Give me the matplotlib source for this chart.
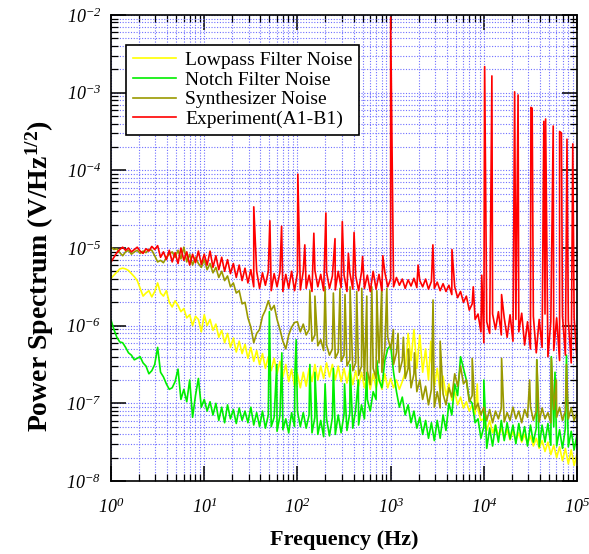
import numpy as np
import matplotlib
matplotlib.use('Agg')
import matplotlib.pyplot as plt
from matplotlib.ticker import FixedLocator, LogLocator, FuncFormatter, NullFormatter

plt.rcParams['font.family'] = 'Liberation Serif'
plt.rcParams['mathtext.fontset'] = 'custom'
plt.rcParams['mathtext.rm'] = 'Liberation Serif:italic'
plt.rcParams['mathtext.it'] = 'Liberation Serif:italic'
plt.rcParams['mathtext.bf'] = 'Liberation Serif:bold'

# spectra on a 32 points/decade grid, stored as log10 of V/Hz^1/2
freq = np.logspace(0, 5, 161)

lowpass_log = [
    -5.39, -5.35, -5.31, -5.27, -5.26, -5.27, -5.29, -5.33, -5.37, -5.42, -5.52, -5.62, -5.58, -5.55, -5.63, -5.56,
    -5.45, -5.58, -5.62, -5.55, -5.70, -5.76, -5.68, -5.74, -5.82, -5.78, -5.90, -5.86, -6.00, -5.88, -5.92, -6.08,
    -5.86, -6.00, -5.92, -6.06, -5.98, -6.15, -6.06, -6.22, -6.10, -6.28, -6.16, -6.34, -6.20, -6.36, -6.24, -6.42,
    -6.28, -6.46, -6.32, -6.50, -6.36, -6.55, -6.40, -6.58, -6.42, -6.62, -6.46, -6.66, -6.50, -6.72, -6.56, -6.78,
    -6.62, -6.80, -6.60, -6.78, -6.55, -6.72, -6.50, -6.70, -6.52, -6.68, -6.48, -6.66, -6.50, -6.70, -6.52, -6.72,
    -6.55, -6.74, -6.56, -6.76, -6.58, -6.78, -6.60, -6.80, -6.62, -6.82, -6.62, -6.80, -6.64, -6.82, -6.62, -6.80,
    -6.68, -6.80, -6.70, -6.82, -6.72, -6.60, -6.10, -6.45, -6.05, -6.55, -6.12, -6.60, -6.30, -6.70, -6.45, -6.78,
    -6.55, -6.85, -6.65, -6.90, -6.75, -6.96, -6.85, -7.02, -6.92, -7.06, -6.98, -7.10, -7.02, -7.14, -7.08, -7.22,
    -7.20, -7.35, -7.22, -7.38, -7.28, -7.42, -7.32, -7.45, -7.34, -7.47, -7.36, -7.48, -7.38, -7.50, -7.40, -7.52,
    -7.42, -7.55, -7.45, -7.58, -7.48, -7.62, -7.50, -7.66, -7.54, -7.70, -7.56, -7.74, -7.58, -7.78, -7.60, -7.80,
    -7.65,
]

notch_log = [
    -5.93, -6.05, -6.15, -6.21, -6.22, -6.28, -6.35, -6.38, -6.44, -6.42, -6.40, -6.48, -6.52, -6.62, -6.58, -6.50,
    -6.28, -6.60, -6.66, -6.75, -6.82, -6.80, -6.72, -6.56, -6.95, -6.82, -6.98, -6.70, -7.18, -6.90, -6.68, -7.05,
    -6.95, -7.10, -6.98, -7.15, -7.00, -7.22, -7.05, -7.25, -7.02, -7.20, -7.08, -7.26, -7.06, -7.22, -7.10, -7.25,
    -7.05, -7.28, -7.12, -7.30, -7.10, -7.32, -7.15, -7.30, -7.18, -7.36, -7.16, -7.34, -7.20, -7.38, -7.12, -7.30,
    -7.10, -7.30, -7.12, -7.32, -7.15, -7.38, -7.18, -7.40, -7.22, -7.43, -7.20, -7.42, -7.18, -7.40, -7.15, -7.38,
    -7.14, -7.35, -7.12, -7.32, -7.08, -7.28, -7.02, -7.20, -6.95, -7.10, -6.85, -6.95, -6.70, -6.80, -6.45, -6.30,
    -6.25, -6.60, -6.85, -7.05, -6.92, -7.15, -7.02, -7.25, -7.10, -7.32, -7.18, -7.40, -7.22, -7.45, -7.25, -7.48,
    -7.22, -7.45, -7.15, -7.35, -7.00, -7.15, -6.75, -6.90, -6.40, -6.55, -6.70, -6.95, -7.00, -7.25, -7.20, -7.45,
    -7.30, -7.58, -7.32, -7.55, -7.28, -7.50, -7.22, -7.48, -7.25, -7.46, -7.28, -7.52, -7.26, -7.48, -7.30, -7.55,
    -7.28, -7.50, -7.32, -7.56, -7.28, -7.50, -7.26, -7.54, -7.30, -7.55, -7.34, -7.58, -7.32, -7.56, -7.36, -7.60,
    -7.40,
]

synth_log = [
    -4.99, -5.02, -5.01, -5.06, -5.10, -5.05, -5.03, -5.08, -5.05, -5.03, -5.07, -5.04, -5.06, -5.02, -5.03, -5.10,
    -5.18, -5.16, -5.19, -5.12, -5.08, -5.05, -5.12, -5.03, -5.14, -4.99, -5.18, -5.08, -5.22, -5.12, -5.20, -5.25,
    -5.15, -5.28, -5.20, -5.32, -5.25, -5.38, -5.30, -5.42, -5.36, -5.50, -5.45, -5.58, -5.55, -5.72, -5.70, -5.90,
    -6.02, -6.22, -6.10, -6.05, -5.88, -5.80, -5.68, -5.80, -5.74, -5.92, -6.05, -6.20, -6.30, -6.12, -6.02, -5.96,
    -5.95, -6.08, -5.98, -6.12, -6.05, -6.20, -6.12, -6.26, -6.18, -6.32, -6.25, -6.38, -6.30, -6.42, -6.34, -6.46,
    -6.38, -6.52, -6.44, -6.58, -6.48, -6.64, -6.52, -6.70, -6.58, -6.76, -6.55, -6.68, -6.48, -6.60, -6.30, -6.15,
    -6.30, -6.50, -6.35, -6.60, -6.45, -6.68, -6.55, -6.80, -6.62, -6.85, -6.70, -6.95, -6.78, -7.02, -6.82, -7.05,
    -6.85, -7.06, -6.88, -7.02, -6.80, -6.92, -6.62, -6.78, -6.52, -6.75, -6.70, -6.98, -6.90, -7.08, -7.00, -7.15,
    -7.05, -7.22, -7.08, -7.25, -7.10, -7.20, -7.06, -7.24, -7.12, -7.22, -7.05, -7.20, -7.10, -7.25, -7.08, -7.18,
    -7.04, -7.22, -7.10, -7.24, -7.06, -7.20, -7.12, -7.25, -7.08, -7.18, -7.05, -7.22, -7.10, -7.20, -7.06, -7.22,
    -7.12,
]

expt_log = [
    -5.18, -5.12, -5.06, -5.02, -4.99, -5.03, -5.00, -5.05, -5.02, -4.99, -5.04, -5.07, -5.01, -5.04, -4.98, -5.02,
    -4.97, -5.12, -5.05, -5.15, -5.03, -5.18, -5.06, -5.20, -5.00, -5.16, -5.05, -5.22, -5.08, -5.19, -5.04, -5.21,
    -5.08, -5.22, -5.04, -5.25, -5.10, -5.28, -5.12, -5.30, -5.15, -5.33, -5.20, -5.38, -5.22, -5.42, -5.26, -5.45,
    -5.28, -5.50, -5.30, -5.52, -5.32, -5.48, -5.30, -5.55, -5.33, -5.50, -5.31, -5.56, -5.34, -5.52, -5.30, -5.55,
    -5.32, -5.54, -5.30, -5.52, -5.35, -5.56, -5.29, -5.50, -5.34, -5.55, -5.31, -5.52, -5.36, -5.54, -5.30, -5.51,
    -5.35, -5.56, -5.32, -5.53, -5.36, -5.55, -5.31, -5.52, -5.35, -5.56, -5.30, -5.53, -5.34, -5.55, -5.31, -5.50,
    -5.40, -5.50, -5.38, -5.48, -5.40, -5.52, -5.41, -5.49, -5.39, -5.51, -5.42, -5.50, -5.40, -5.53, -5.43, -5.52,
    -5.44, -5.55, -5.46, -5.56, -5.48, -5.60, -5.50, -5.64, -5.56, -5.70, -5.62, -5.80, -5.72, -5.92, -5.85, -6.08,
    -6.22, -5.95, -6.10, -5.85, -6.05, -5.82, -6.12, -5.90, -6.15, -5.86, -6.20, -5.92, -6.08, -5.84, -6.25, -5.95,
    -6.30, -5.88, -6.35, -5.92, -6.28, -5.85, -6.40, -5.95, -6.32, -5.90, -6.45, -5.88, -6.38, -5.93, -6.48, -5.90,
    -6.45,
]

# narrow spectral lines: frequency (Hz) and peak log10 amplitude
lowpass_line_f = [2700, 8500]
lowpass_line_v = [-6.20, -6.75]

notch_line_f = [50, 60, 68, 94, 97, 136, 154, 198, 243, 320, 367, 450, 555, 711,
                10000, 37000, 53000, 58000, 77000]
notch_line_v = [-5.82, -6.50, -6.35, -6.60, -6.18, -6.50, -6.60, -6.75, -6.55, -6.75, -6.50, -6.70, -6.60, -6.45,
                -6.70, -6.44, -6.40, -6.60, -6.38]

synth_line_f = [136, 154, 198, 243, 286, 324, 367, 433, 490, 555, 628, 711, 804, 910,
                1070, 1200, 1370, 1550, 1800, 2850, 3400, 7500, 15500, 31000, 37000, 53000, 60000, 77000]
synth_line_v = [-5.55, -5.62, -5.50, -5.58, -5.52, -5.60, -5.50, -5.56, -5.52, -5.62, -5.50, -5.55, -5.48, -5.52,
                -6.05, -6.10, -6.15, -6.30, -6.35, -5.67, -6.20, -6.42, -6.42, -6.70, -6.44, -6.42, -6.70, -6.50]

expt_line_f = [34, 50.6, 67.6, 101, 120, 150, 202, 253, 303, 352, 405, 500, 824, 1000,
               1970, 2840, 4550, 7700, 9500, 10200, 12200, 15500, 21400, 23300, 32000, 33000,
               44000, 46000, 55500, 65000, 68000, 78000, 90000]
expt_line_v = [-4.47, -4.65, -4.72, -4.05, -4.96, -4.81, -4.55, -4.88, -4.66, -5.07, -4.80, -5.11, -5.10, -2.03,
               -5.22, -4.96, -5.02, -5.50, -5.35, -2.665, -2.785, -5.60, -2.99, -3.03, -3.19, -3.20,
               -3.37, -3.34, -3.43, -3.50, -3.52, -3.60, -3.66]

x_decades = [1e0, 1e1, 1e2, 1e3, 1e4, 1e5]
y_decades = [1e-8, 1e-7, 1e-6, 1e-5, 1e-4, 1e-3, 1e-2]


def with_lines(base_log, line_f, line_v):
    f = np.concatenate([freq, line_f])
    v = np.concatenate([base_log, line_v])
    order = np.argsort(f)
    return f[order], 10.0 ** v[order]


series = [
    (lowpass_log, lowpass_line_f, lowpass_line_v, '#ffff00', 'Lowpass Filter Noise'),
    (notch_log, notch_line_f, notch_line_v, '#00ee00', 'Notch Filter Noise'),
    (synth_log, synth_line_f, synth_line_v, '#999900', 'Synthesizer Noise'),
    (expt_log, expt_line_f, expt_line_v, '#ff0000', 'Experiment(A1-B1)'),
]

fig = plt.figure(figsize=(5.89, 5.54), dpi=100)
ax = fig.add_axes([0.1885, 0.1318, 0.7912, 0.8412])

for base, lf, lv, color, label in series:
    f, v = with_lines(base, lf, lv)
    ax.plot(f, v, color=color, lw=1.2, label=label)

ax.set_xscale('log')
ax.set_yscale('log')
ax.set_xlim(x_decades[0], x_decades[-1])
ax.set_ylim(y_decades[0], y_decades[-1])

decade_fmt = FuncFormatter(lambda v, pos: r'$10^{%d}$' % int(round(np.log10(v))))
for axis, decades in ((ax.xaxis, x_decades), (ax.yaxis, y_decades)):
    axis.set_major_locator(FixedLocator(decades))
    axis.set_minor_locator(LogLocator(base=10, subs=np.arange(2, 10), numticks=20))
    axis.set_major_formatter(decade_fmt)
    axis.set_minor_formatter(NullFormatter())

ax.grid(True, which='both', color='#6f6fff', linestyle=(0, (1, 1.5)), linewidth=0.8)
ax.set_axisbelow(True)

ax.tick_params(which='both', direction='in', top=True, right=True, labelsize=13)
ax.tick_params(which='major', length=11, width=1.1)
ax.tick_params(which='minor', length=5, width=0.9)
ax.tick_params(axis='x', which='major', pad=12)
ax.tick_params(axis='y', which='major', pad=7)
for sp in ax.spines.values():
    sp.set_linewidth(1.2)

ax.set_xlabel('Frequency (Hz)', fontsize=16, fontweight='bold')
ax.set_ylabel(r'Power Spectrum (V/Hz$^{\mathbf{1/2}}$)', fontsize=20, fontweight='bold')
ax.xaxis.set_label_coords(0.5, -0.105)
ax.yaxis.set_label_coords(-0.118, 0.44)

leg = ax.legend(loc='upper left', bbox_to_anchor=(0.032, 0.936), borderaxespad=0,
                fontsize=14, fancybox=False, framealpha=1, edgecolor='black',
                handlelength=2.2, handletextpad=0.5, labelspacing=0.1, borderpad=0.35)
leg.get_frame().set_linewidth(1.2)

fig.savefig('out.png', dpi=100)
